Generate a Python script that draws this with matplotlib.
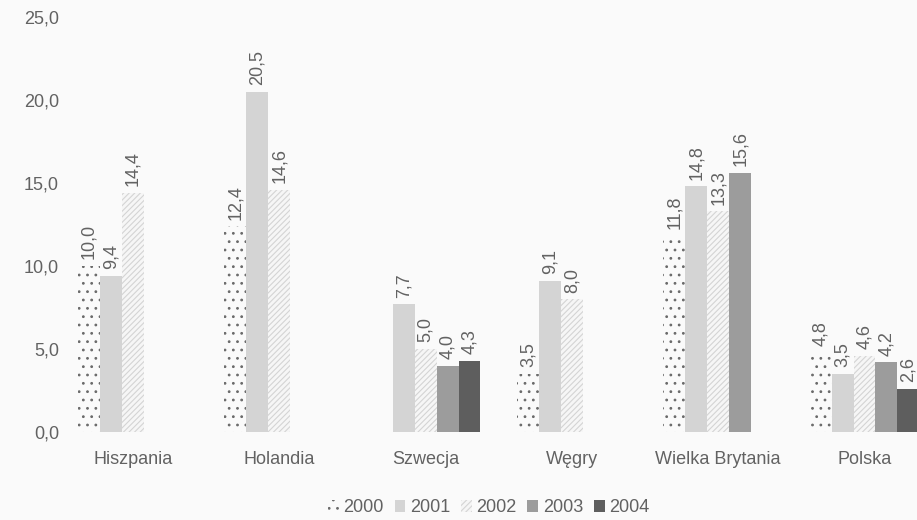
import numpy as np
import matplotlib
matplotlib.use("Agg")
from matplotlib import pyplot as plt

kraje = ["Hiszpania", "Holandia", "Szwecja", "Węgry", "Wielka Brytania", "Polska"]
lata = ["2000", "2001", "2002", "2003", "2004"]
nan = np.nan
w2000 = [10.0, 12.4, nan, 3.5, 11.8, 4.8]
w2001 = [9.4, 20.5, 7.7, 9.1, 14.8, 3.5]
w2002 = [14.4, 14.6, 5.0, 8.0, 13.3, 4.6]
w2003 = [nan, nan, 4.0, nan, 15.6, 4.2]
w2004 = [nan, nan, 4.3, nan, nan, 2.6]
serie = [w2000, w2001, w2002, w2003, w2004]

# wyglad kolejnych lat: kolor wypelnienia, kolor wzoru, wzor
kolory = ["#fafafa", "#d4d4d4", "#f6f6f6", "#9c9c9c", "#5e5e5e"]
wzor_kolor = ["#6a6a6a", "#d4d4d4", "#d4d4d4", "#9c9c9c", "#5e5e5e"]
wzory = ["..", None, "//////", None, None]

plt.rcParams["font.family"] = ["Liberation Sans", "DejaVu Sans"]
plt.rcParams["hatch.linewidth"] = 0.8
tlo = "#fafafa"
szary = "#626262"
fs = 13

fig = plt.figure(figsize=(9.17, 5.2), dpi=100, facecolor=tlo)
ax = fig.add_axes([70/917, 88/520, 847/917, 415/520], facecolor=tlo)

x = np.arange(len(kraje))
szer = 0.15
for i, s in enumerate(serie):
    pos = x + (i - 2) * szer
    bars = ax.bar(pos, s, szer, color=kolory[i], edgecolor=wzor_kolor[i],
                  linewidth=0, hatch=wzory[i], label=lata[i])
    for xp, v in zip(pos, s):
        if np.isnan(v):
            continue
        ax.text(xp, v + 0.4, f"{v:.1f}".replace(".", ","), rotation=90,
                ha="center", va="bottom", fontsize=fs, color=szary)

ax.set_xlim((70 - 133) / 146.3, (917 - 133) / 146.3)
ax.set_ylim(0, 25)
ax.set_yticks(np.arange(0, 26, 5))
ax.set_yticklabels([f"{t:.1f}".replace(".", ",") for t in np.arange(0, 26, 5)])
ax.set_xticks(x)
ax.set_xticklabels(kraje)
ax.tick_params(length=0, labelsize=fs, labelcolor=szary)
ax.tick_params(axis="y", pad=8)
ax.tick_params(axis="x", pad=14)
for sp in ax.spines.values():
    sp.set_visible(False)

leg = fig.legend(loc="center", bbox_to_anchor=(0.533, 12/520), ncol=5,
                 frameon=False, fontsize=fs, handlelength=0.6, handleheight=0.6,
                 handletextpad=0.25, columnspacing=0.6)
for t in leg.get_texts():
    t.set_color(szary)

fig.savefig("out.png", dpi=100, facecolor=tlo)
